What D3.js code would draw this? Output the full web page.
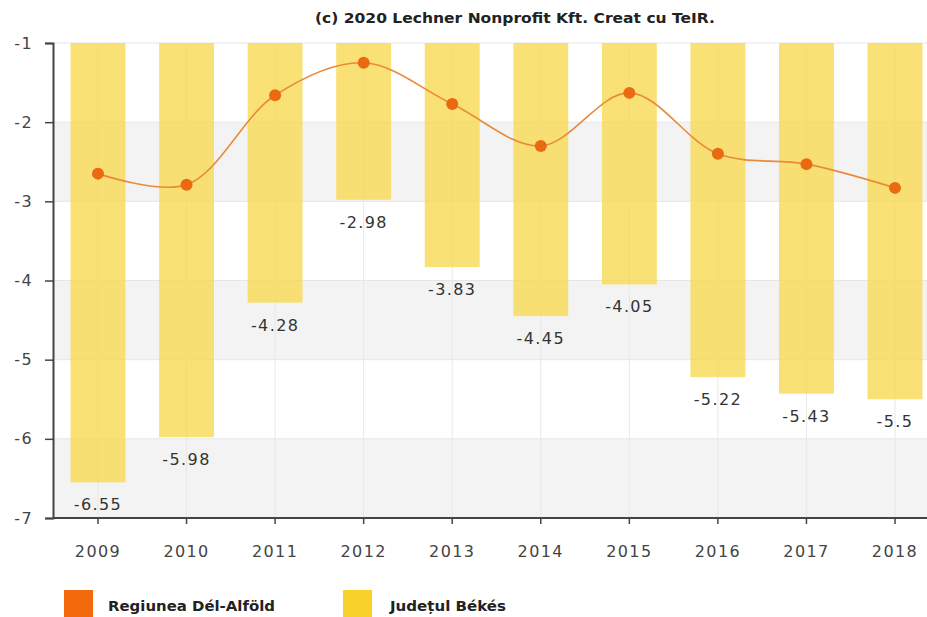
<!DOCTYPE html>
<html>
<head>
<meta charset="utf-8">
<script src="https://cdn.jsdelivr.net/npm/d3@7"></script>
<style>
  body { margin: 0; background: #fff; }
  svg { display: block; font-family: "DejaVu Sans", Verdana, sans-serif; }
</style>
</head>
<body>
<svg width="927" height="617"></svg>
<script>
var years = ['2009', '2010', '2011', '2012', '2013', '2014', '2015', '2016', '2017', '2018'];
var judetValues = [-6.55, -5.98, -4.28, -2.98, -3.83, -4.45, -4.05, -5.22, -5.43, -5.5];
var regiuneValues = [-2.65, -2.79, -1.66, -1.25, -1.77, -2.30, -1.63, -2.40, -2.53, -2.83];
var yTicks = [-1, -2, -3, -4, -5, -6, -7];
var seriesNames = ['Regiunea Dél-Alföld', 'Județul Békés'];

(function() {
    var svg = d3.select('svg');
    var left = 53, right = 927, top = 43, bottom = 518;

    var y = d3.scaleLinear().domain([-1, -7]).range([top, bottom]);
    var x = d3.scaleBand().domain(years).range([53.7, 939.3]).paddingInner(0.38).paddingOuter(0.19);
    function cx(i) { return x(years[i]) + x.bandwidth() / 2; }

    // alternating gray bands
    var bands = [[-2, -3], [-4, -5], [-6, -7]];
    svg.selectAll('rect.band').data(bands).enter().append('rect')
        .attr('class', 'band')
        .attr('x', left).attr('width', right - left)
        .attr('y', function(d) { return y(d[0]); })
        .attr('height', function(d) { return y(d[1]) - y(d[0]); })
        .attr('fill', '#f3f3f3');

    // grid lines
    svg.selectAll('line.hgrid').data(yTicks).enter().append('line')
        .attr('x1', left).attr('x2', right)
        .attr('y1', function(d) { return y(d); }).attr('y2', function(d) { return y(d); })
        .attr('stroke', '#e6e6e6');
    svg.selectAll('line.vgrid').data(years).enter().append('line')
        .attr('x1', function(d, i) { return cx(i); }).attr('x2', function(d, i) { return cx(i); })
        .attr('y1', top).attr('y2', bottom)
        .attr('stroke', '#e8e8e8');

    // bars hanging from -1
    svg.selectAll('rect.bar').data(judetValues).enter().append('rect')
        .attr('x', function(d, i) { return x(years[i]); })
        .attr('width', x.bandwidth())
        .attr('y', y(-1))
        .attr('height', function(d) { return y(d) - y(-1); })
        .attr('fill', '#f9d84f')
        .attr('fill-opacity', 0.78);

    svg.selectAll('text.barlabel').data(judetValues).enter().append('text')
        .attr('x', function(d, i) { return cx(i); })
        .attr('y', function(d) { return y(d) + 28; })
        .attr('text-anchor', 'middle')
        .attr('font-size', 16)
        .attr('letter-spacing', 1.4)
        .attr('fill', '#333')
        .text(function(d) { return d; });

    // line
    var line = d3.line()
        .x(function(d, i) { return cx(i); })
        .y(function(d) { return y(d); })
        .curve(d3.curveCatmullRom.alpha(0.5));
    svg.append('path').datum(regiuneValues)
        .attr('d', line)
        .attr('fill', 'none')
        .attr('stroke', '#e98a3a')
        .attr('stroke-width', 1.6);
    svg.selectAll('circle').data(regiuneValues).enter().append('circle')
        .attr('cx', function(d, i) { return cx(i); })
        .attr('cy', function(d) { return y(d); })
        .attr('r', 6)
        .attr('fill', '#ea6a12');

    // axes
    var yAxis = svg.append('g').attr('transform', 'translate(' + left + ',0)')
        .call(d3.axisLeft(y).tickValues(yTicks).tickSize(8).tickPadding(12).tickFormat(String));
    var xAxis = svg.append('g').attr('transform', 'translate(0,' + bottom + ')')
        .call(d3.axisBottom(x).tickSize(6).tickPadding(22));
    xAxis.select('.domain').attr('d', 'M' + left + ',0H' + right);
    [yAxis, xAxis].forEach(function(a) {
        a.select('.domain').attr('stroke', '#444').attr('stroke-width', 2);
        a.selectAll('.tick line').attr('stroke', '#444').attr('stroke-width', 1.5);
        a.selectAll('.tick text').attr('font-size', 16).attr('fill', '#444')
            .attr('letter-spacing', 1.4)
            .attr('font-family', '"DejaVu Sans", Verdana, sans-serif');
    });

    // title
    svg.append('text')
        .attr('x', 515).attr('y', 23)
        .attr('text-anchor', 'middle')
        .attr('font-size', 14).attr('font-weight', 'bold').attr('fill', '#222')
        .attr('textLength', 400).attr('lengthAdjust', 'spacingAndGlyphs')
        .text('(c) 2020 Lechner Nonprofit Kft. Creat cu TeIR.');

    // legend
    var legendColors = ['#f26a0c', '#f8d12a'];
    var legendX = [64, 343];
    var legendW = [167, 116];
    var lg = svg.selectAll('g.legend').data(seriesNames).enter().append('g')
        .attr('transform', function(d, i) { return 'translate(' + legendX[i] + ',590)'; });
    lg.append('rect').attr('width', 29).attr('height', 29)
        .attr('fill', function(d, i) { return legendColors[i]; });
    lg.append('text').attr('x', function(d, i) { return i === 0 ? 44 : 47; }).attr('y', 21)
        .attr('font-size', 14).attr('font-weight', 'bold').attr('fill', '#222')
        .attr('textLength', function(d, i) { return legendW[i]; })
        .attr('lengthAdjust', 'spacingAndGlyphs')
        .text(function(d) { return d; });
})();
</script>
</body>
</html>
